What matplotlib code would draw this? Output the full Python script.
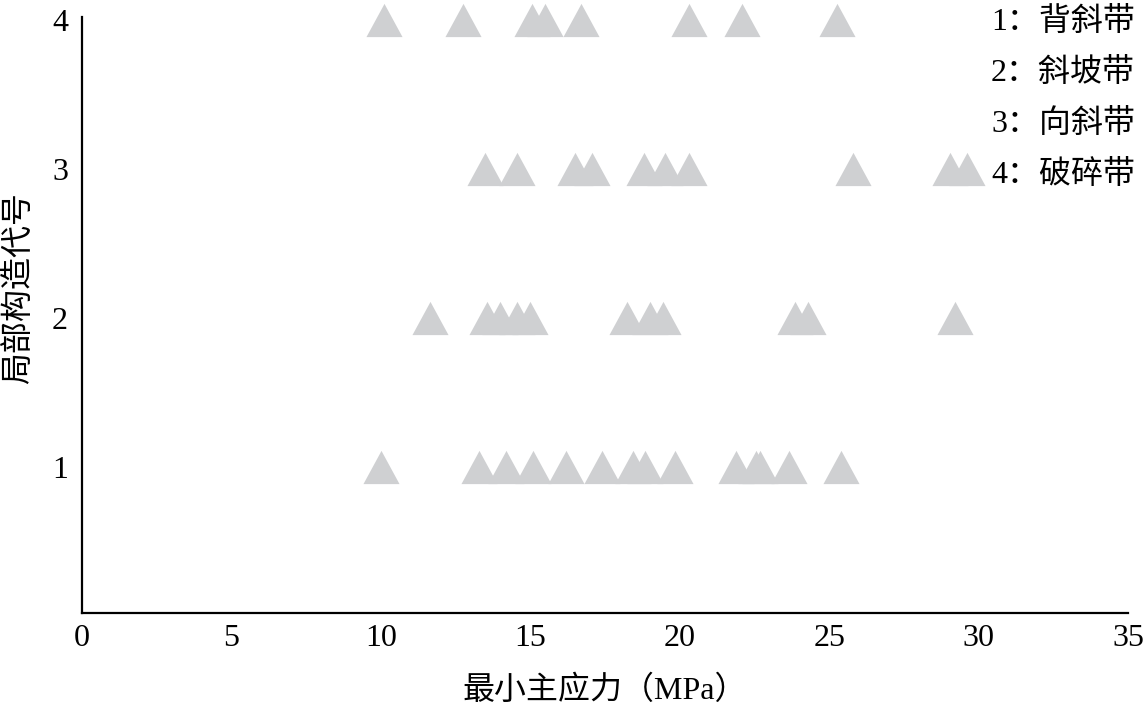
import numpy as np
import matplotlib.pyplot as plt

# minimum principal stress (MPa) per local structure code
zone1 = [10.0, 13.3, 14.2, 15.1, 16.2, 17.4, 18.45, 18.85, 19.85, 21.9, 22.55, 22.7, 23.65, 25.4]
zone2 = [11.65, 13.55, 14.0, 14.55, 15.0, 18.25, 19.0, 19.45, 23.85, 24.3, 29.2]
zone3 = [13.5, 14.55, 16.5, 17.05, 18.8, 19.5, 20.3, 25.8, 29.05, 29.6]
zone4 = [10.1, 12.75, 15.05, 15.5, 16.7, 20.3, 22.1, 25.25]

zone_codes = [1, 2, 3, 4]
zone_names = ["背斜带", "斜坡带", "向斜带", "破碎带"]
x_ticks = [0, 5, 10, 15, 20, 25, 30, 35]

FONTS = ["Liberation Serif", "Noto Sans CJK SC", "DejaVu Sans"]
plt.rcParams["font.family"] = FONTS

fig = plt.figure(figsize=(11.44, 7.04), dpi=100)
ax = fig.add_axes([82 / 1144, 1 - 613 / 704, 1046 / 1144, 596 / 704])

# slightly flattened triangle, like the original
tri = [(0, 0.92), (-1, -0.92), (1, -0.92), (0, 0.92)]
for code, vals in zip(zone_codes, [zone1, zone2, zone3, zone4]):
    ax.plot(vals, [code] * len(vals), linestyle="none", marker=tri,
            markersize=26, color="#cfd0d2", markeredgewidth=0, clip_on=False)

ax.set_xlim(0, 35)
ax.set_ylim(0.025, 4.017)
ax.set_xticks(x_ticks)
ax.set_yticks(zone_codes)
ax.tick_params(length=0, labelsize=23)
ax.tick_params(axis="x", pad=8)
ax.tick_params(axis="y", pad=10)

for side in ["top", "right"]:
    ax.spines[side].set_visible(False)
for side in ["left", "bottom"]:
    ax.spines[side].set_linewidth(1.6)

ax.set_xlabel("最小主应力（MPa）", fontsize=23)
ax.xaxis.set_label_coords(0.50, -0.105)
ax.set_ylabel("局部构造代号", fontsize=23)
ax.yaxis.set_label_coords(-0.046, 0.545)

# structure code key in the upper right
for i, (code, name) in enumerate(zip(zone_codes, zone_names)):
    fig.text(1135 / 1144, 1 - (22 + i * 51) / 704, f"{code}：{name}",
             ha="right", va="center", fontsize=23)

fig.savefig("out.png", dpi=100)
